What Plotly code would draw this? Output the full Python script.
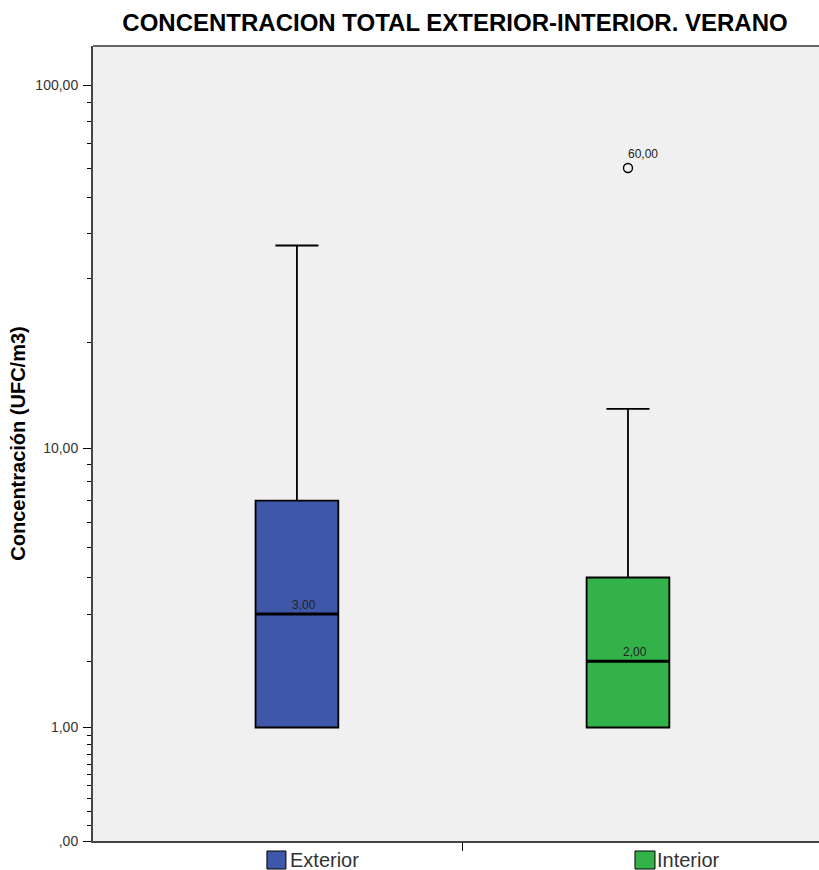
import math
import plotly.graph_objects as go

# ---- data (UFC/m3) ----
categories = ["Exterior", "Interior"]
lower_whisker = [1, 1]
q1_values = [1, 1]
median_values = [3, 2]
q3_values = [7, 4]
upper_whisker = [37, 13]
outlier_values = [None, 60]
box_colors = ["#3F57A9", "#33B249"]

y_tick_values = [0, 1, 10, 100]
y_tick_labels = [",00", "1,00", "10,00", "100,00"]
y_minor_values = [0.1, 0.2, 0.3, 0.4, 0.5, 0.6, 0.7, 0.8, 0.9,
                  2, 3, 4, 5, 6, 7, 8, 9,
                  20, 30, 40, 50, 60, 70, 80, 90]


def safe(v):
    # SPSS "safe log" scale: plotted on a log axis as value + 1
    return v + 1


def fmt(v):
    return f"{v:.2f}".replace(".", ",")


FONT = "Arial, Liberation Sans, sans-serif"
xpos = list(range(len(categories)))
BOX_W = 0.25

fig = go.Figure()
for i, cat in enumerate(categories):
    fig.add_trace(go.Box(
        x=[xpos[i]],
        q1=[safe(q1_values[i])],
        median=[safe(median_values[i])],
        q3=[safe(q3_values[i])],
        lowerfence=[safe(lower_whisker[i])],
        upperfence=[safe(upper_whisker[i])],
        width=BOX_W,
        whiskerwidth=0.52,
        fillcolor=box_colors[i],
        line=dict(color="black", width=1.8),
        boxpoints=False,
        hoverinfo="skip",
        showlegend=False,
    ))
    # thick median line
    fig.add_trace(go.Scatter(
        x=[xpos[i] - BOX_W / 2, xpos[i] + BOX_W / 2],
        y=[safe(median_values[i])] * 2,
        mode="lines",
        line=dict(color="black", width=3),
        hoverinfo="skip",
        showlegend=False,
    ))
    fig.add_annotation(
        x=xpos[i] + 0.022, y=math.log10(safe(median_values[i])),
        text=fmt(median_values[i]), showarrow=False, yshift=9,
        font=dict(family=FONT, size=12, color="#222222"),
    )

# outliers
ox = [xpos[i] for i, v in enumerate(outlier_values) if v is not None]
oy = [safe(v) for v in outlier_values if v is not None]
fig.add_trace(go.Scatter(
    x=ox, y=oy, mode="markers",
    marker=dict(symbol="circle-open", size=9, color="black", line=dict(width=1.4)),
    hoverinfo="skip", showlegend=False,
))
for i, v in enumerate(outlier_values):
    if v is not None:
        fig.add_annotation(
            x=xpos[i] + 0.046, y=math.log10(safe(v)),
            text=fmt(v), showarrow=False, yshift=14,
            font=dict(family=FONT, size=12, color="#222222"),
        )

# category labels with coloured squares below the axis
label_offsets = [(-30, -11, -9), (7, 27, 27)]
for i, cat in enumerate(categories):
    s0, s1, t0 = label_offsets[i]
    fig.add_shape(
        type="rect", xref="x", yref="paper",
        xsizemode="pixel", ysizemode="pixel",
        xanchor=xpos[i], yanchor=0,
        x0=s0, x1=s1, y0=-10, y1=-28,
        fillcolor=box_colors[i], line=dict(color="black", width=1),
    )
    fig.add_annotation(
        x=xpos[i], y=0, xref="x", yref="paper",
        xanchor="left", yanchor="top", xshift=t0, yshift=-6,
        text=cat, showarrow=False,
        font=dict(family=FONT, size=20, color="#333333"),
    )

# top frame line (plot is cropped on the right in the reference)
fig.add_shape(type="line", xref="paper", yref="paper", x0=0, x1=1, y0=1, y1=1,
              line=dict(color="#666666", width=2))

fig.update_layout(
    width=819, height=870,
    margin=dict(l=93, r=0, t=46, b=29),
    paper_bgcolor="white",
    plot_bgcolor="#F0F0F0",
    title=dict(
        text="<b>CONCENTRACION TOTAL EXTERIOR-INTERIOR. VERANO</b>",
        x=(455 - 93) / (819 - 93), xref="paper", xanchor="center",
        y=1 - 23 / 870, yanchor="middle",
        font=dict(family=FONT, size=24, color="black"),
    ),
    xaxis=dict(
        range=[-0.616, 1.577],
        tickmode="array", tickvals=[0.5], ticktext=[""],
        ticks="outside", ticklen=8, tickcolor="black", tickwidth=1.3,
        showgrid=False, zeroline=False,
        showline=True, linecolor="#444444", linewidth=2,
    ),
    yaxis=dict(
        type="log",
        range=[0, 2.109],
        tickmode="array",
        tickvals=[safe(v) for v in y_tick_values],
        ticktext=y_tick_labels,
        ticks="outside", ticklen=8, tickcolor="black", tickwidth=1.3,
        tickfont=dict(family=FONT, size=14, color="#333333"),
        ticklabelstandoff=2,
        minor=dict(tickmode="array", tickvals=[safe(v) for v in y_minor_values],
                   ticks="outside", ticklen=4, tickcolor="black", tickwidth=1.3,
                   showgrid=False),
        showgrid=False, zeroline=False,
        showline=True, linecolor="#444444", linewidth=2,
        title=dict(text="<b>Concentración (UFC/m3)</b>",
                   font=dict(family=FONT, size=20, color="black"),
                   standoff=4),
    ),
)

fig.write_html("out.html")
